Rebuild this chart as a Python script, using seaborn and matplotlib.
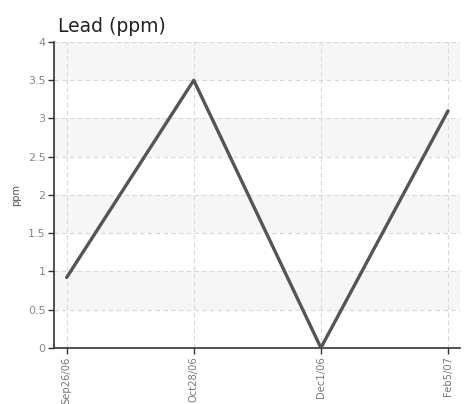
import pandas as pd
import matplotlib
matplotlib.use("Agg")
import matplotlib.pyplot as plt
import seaborn as sns

# data
dates = ["Sep26/06", "Oct28/06", "Dec1/06", "Feb5/07"]
lead_ppm = [0.92, 3.5, 0.0, 3.1]
y_ticks = [0, 0.5, 1, 1.5, 2, 2.5, 3, 3.5, 4]
y_tick_labels = ["0", "0.5", "1", "1.5", "2", "2.5", "3", "3.5", "4"]

df = pd.DataFrame({"date": dates, "ppm": lead_ppm, "pos": range(len(dates))})

sns.set_style("white")
plt.rcParams['font.family'] = ['DejaVu Sans']

fig = plt.figure(figsize=(4.69, 4.04), dpi=100)
ax = fig.add_axes([0.115, 0.139, 0.866, 0.757])

# alternating bands
for lo in [0.5, 1.5, 2.5, 3.5]:
    ax.axhspan(lo, lo + 0.5, color="#f6f6f6", zorder=0, lw=0)

sns.lineplot(data=df, x="pos", y="ppm", ax=ax, color="#555555", linewidth=2.4, zorder=3)

ax.set_xlim(-0.1, 3.095)
ax.set_ylim(0, 4)
ax.set_xticks(df["pos"])
ax.set_xticklabels(dates, rotation=90, fontsize=7.2, color="#777777")
ax.set_yticks(y_ticks)
ax.set_yticklabels(y_tick_labels, fontsize=8, color="#888888")
ax.tick_params(axis="both", direction="out", length=4, width=1, color="#333333", pad=2)
ax.tick_params(axis="x", bottom=True)
ax.tick_params(axis="y", left=True)

ax.grid(True, linestyle=(0, (4, 3)), color="#d8d8d8", linewidth=0.8)
ax.set_axisbelow(True)

for side in ["top", "right"]:
    ax.spines[side].set_visible(False)
for side in ["left", "bottom"]:
    ax.spines[side].set_color("#333333")
    ax.spines[side].set_linewidth(1.2)

ax.set_xlabel("")
ax.set_ylabel("ppm", fontsize=7, color="#555555", labelpad=5)
ax.set_title("Lead (ppm)", loc="left", fontsize=13.5, color="#222222", pad=7, x=0.01)

fig.savefig("out.png", dpi=100)
